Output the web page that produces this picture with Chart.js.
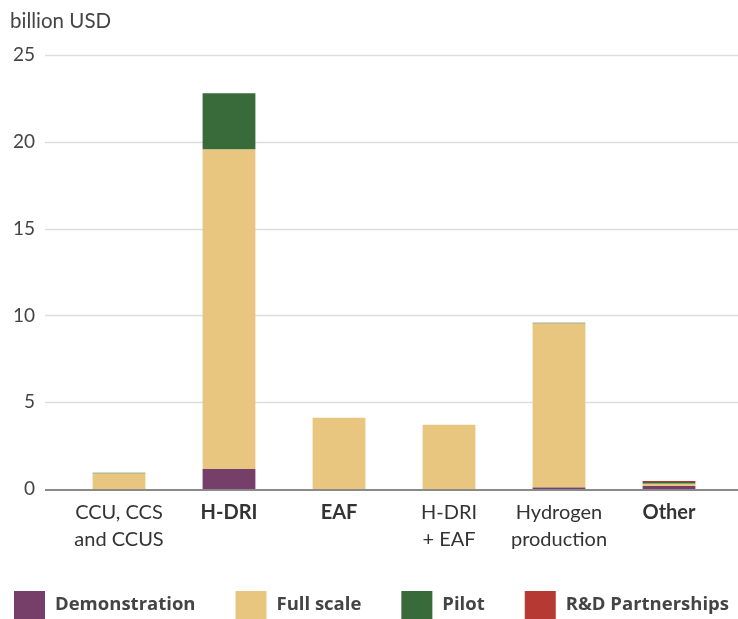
<!DOCTYPE html>
<html>
<head>
<meta charset="utf-8">
<script src="https://cdn.jsdelivr.net/npm/chart.js@4/dist/chart.umd.min.js"></script>
<style>
  html, body { margin: 0; padding: 0; background: #fff; }
  #wrap { width: 738px; height: 619px; }
</style>
</head>
<body>
<div id="wrap"><canvas id="myChart" width="738" height="619"></canvas></div>
<script>
// categories and series (billion USD)
const categories = [["CCU, CCS", "and CCUS"], "H-DRI", "EAF", ["H-DRI", "+ EAF"], ["Hydrogen", "production"], "Other"];
const boldCats = [false, true, true, false, false, true];
const demonstration = [0, 1.15, 0, 0, 0.08, 0.17];
const fullScale = [0.9, 18.4, 4.1, 3.7, 9.45, 0.13];
const pilot = [0.03, 3.25, 0, 0, 0.05, 0.1];
const rdPartnerships = [0, 0, 0, 0, 0, 0.06];
const yTicks = [0, 5, 10, 15, 20, 25];

const FONT = "Lato, 'Open Sans', sans-serif";

const gridPlugin = {
  id: "gridPlugin",
  beforeDatasetsDraw(chart) {
    const ctx = chart.ctx;
    const y = chart.scales.y;
    ctx.save();
    ctx.strokeStyle = "#dddddd";
    ctx.lineWidth = 1.5;
    for (const t of yTicks) {
      if (t === 0) continue;
      const py = Math.round(y.getPixelForValue(t)) + 0.5;
      ctx.beginPath();
      ctx.moveTo(45, py);
      ctx.lineTo(738, py);
      ctx.stroke();
    }
    ctx.fillStyle = "#444";
    ctx.font = "20.5px " + FONT;
    ctx.textBaseline = "middle";
    ctx.textAlign = "left";
    ctx.fillText("billion USD", 10, 21);
    ctx.restore();
  },
  afterDatasetsDraw(chart) {
    const ctx = chart.ctx;
    const py = chart.scales.y.getPixelForValue(0);
    ctx.save();
    ctx.strokeStyle = "#8a8a8a";
    ctx.lineWidth = 2;
    ctx.beginPath();
    ctx.moveTo(45, py + 1);
    ctx.lineTo(738, py + 1);
    ctx.stroke();
    ctx.restore();
  },
  // legend row along the bottom, from the dataset labels and colours
  afterDraw(chart) {
    const ctx = chart.ctx;
    ctx.save();
    ctx.font = "bold 18.5px 'Open Sans', sans-serif";
    ctx.textBaseline = "middle";
    ctx.textAlign = "left";
    let x = 14;
    const yc = 605;
    for (const ds of chart.data.datasets) {
      ctx.fillStyle = ds.backgroundColor;
      ctx.fillRect(x, 591, 31, 29);
      ctx.fillStyle = "#444";
      ctx.fillText(ds.label, x + 41, yc);
      x += 41 + ctx.measureText(ds.label).width + 40;
    }
    ctx.restore();
  }
};

function charter() {
  const ctx = document.getElementById("myChart");
  const mk = (label, data, color) => ({
    label: label,
    data: data,
    backgroundColor: color,
    borderWidth: 0,
    categoryPercentage: 1,
    barPercentage: 0.48,
  });
  new Chart(ctx, {
    type: "bar",
    data: {
      labels: categories,
      datasets: [
        mk("Demonstration", demonstration, "#763f6a"),
        mk("Full scale", fullScale, "#e8c680"),
        mk("Pilot", pilot, "#386a3a"),
        mk("R&D Partnerships", rdPartnerships, "#b63a33"),
      ],
    },
    options: {
      responsive: false,
      animation: false,
      layout: { padding: { top: 55, right: 14, left: 0, bottom: 0 } },
      plugins: {
        tooltip: { enabled: false },
        legend: { display: false },
      },
      scales: {
        x: {
          stacked: true,
          grid: { display: false, drawTicks: false },
          border: { display: false },
          ticks: {
            padding: 10,
            color: "#333",
            maxRotation: 0,
            autoSkip: false,
            font: (c) => ({ family: FONT, size: 20, weight: boldCats[c.index] ? "bold" : "normal", lineHeight: 1.35 }),
          },
          afterFit(scale) { scale.height = 130; },
        },
        y: {
          stacked: true,
          min: 0,
          max: 25,
          grid: { display: false, drawTicks: false },
          border: { display: false },
          afterBuildTicks(scale) { scale.ticks = yTicks.map((v) => ({ value: v })); },
          ticks: {
            padding: 29,
            color: "#444",
            font: { family: FONT, size: 19 },
          },
          afterFit(scale) { scale.width = 64; },
        },
      },
    },
    plugins: [gridPlugin],
  });
}

window.onload = () => { charter(); };
</script>
</body>
</html>
